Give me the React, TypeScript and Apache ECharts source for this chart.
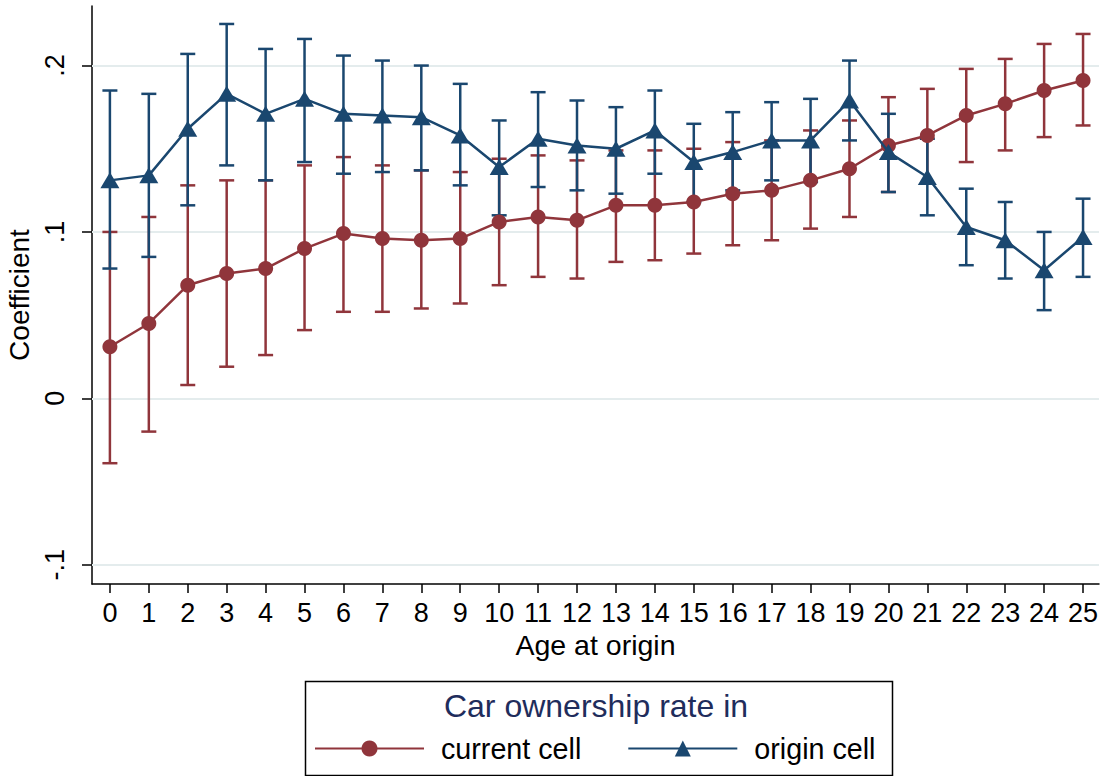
import React, { useEffect, useRef } from "react";
import * as echarts from "echarts";

// Age at origin (x) and the coefficient estimates with their 95% bounds
const ages = [0, 1, 2, 3, 4, 5, 6, 7, 8, 9, 10, 11, 12, 13, 14, 15, 16, 17, 18, 19, 20, 21, 22, 23, 24, 25];

const currentCoef = [0.031, 0.045, 0.068, 0.075, 0.078, 0.09, 0.099, 0.096, 0.095, 0.096, 0.106, 0.109, 0.107, 0.116, 0.116, 0.118, 0.123, 0.125, 0.131, 0.138, 0.152, 0.158, 0.17, 0.177, 0.185, 0.191];
const currentHi = [0.1, 0.109, 0.128, 0.131, 0.131, 0.14, 0.145, 0.14, 0.137, 0.136, 0.144, 0.146, 0.143, 0.149, 0.149, 0.15, 0.154, 0.155, 0.161, 0.167, 0.181, 0.186, 0.198, 0.204, 0.213, 0.219];
const currentLo = [-0.039, -0.02, 0.008, 0.019, 0.026, 0.041, 0.052, 0.052, 0.054, 0.057, 0.068, 0.073, 0.072, 0.082, 0.083, 0.087, 0.092, 0.095, 0.102, 0.109, 0.124, 0.129, 0.142, 0.149, 0.157, 0.164];

const originCoef = [0.131, 0.134, 0.162, 0.183, 0.171, 0.18, 0.171, 0.17, 0.169, 0.158, 0.139, 0.156, 0.152, 0.15, 0.161, 0.142, 0.148, 0.155, 0.155, 0.179, 0.148, 0.133, 0.103, 0.095, 0.077, 0.097];
const originHi = [0.185, 0.183, 0.207, 0.225, 0.21, 0.216, 0.206, 0.203, 0.2, 0.189, 0.167, 0.184, 0.179, 0.175, 0.185, 0.165, 0.172, 0.178, 0.18, 0.203, 0.171, 0.156, 0.126, 0.118, 0.1, 0.12];
const originLo = [0.078, 0.085, 0.116, 0.14, 0.131, 0.142, 0.135, 0.136, 0.137, 0.128, 0.11, 0.127, 0.125, 0.123, 0.135, 0.118, 0.125, 0.131, 0.13, 0.155, 0.124, 0.11, 0.08, 0.072, 0.053, 0.073];

const yTicks = [-0.1, 0, 0.1, 0.2];
const yTickLabels = ["-.1", "0", ".1", ".2"];

const seriesNames = ["current cell", "origin cell"];
const legendTitle = "Car ownership rate in";
const xTitle = "Age at origin";
const yTitle = "Coefficient";

const RED = "#90353b";
const NAVY = "#1a476f";
const FONT = "'Liberation Sans', Arial, Helvetica, sans-serif";

// Vertical range bar with horizontal caps at both ends
const renderCap = (_params: any, api: any) => {
  const x = api.value(0);
  const lo = api.coord([x, api.value(1)]);
  const hi = api.coord([x, api.value(2)]);
  const half = 7.5;
  const style = { stroke: api.visual("color"), lineWidth: 2.5, fill: "none" };
  return {
    type: "group",
    children: [
      { type: "line", shape: { x1: lo[0], y1: lo[1], x2: hi[0], y2: hi[1] }, style },
      { type: "line", shape: { x1: hi[0] - half, y1: hi[1], x2: hi[0] + half, y2: hi[1] }, style },
      { type: "line", shape: { x1: lo[0] - half, y1: lo[1], x2: lo[0] + half, y2: lo[1] }, style },
    ],
  };
};

export default function App() {
  const ref = useRef<HTMLDivElement>(null);

  useEffect(() => {
    if (!ref.current) return;
    const chart = echarts.init(ref.current, null, { renderer: "svg" });

    const currentBars = ages.map((a, i) => [a, currentLo[i], currentHi[i]]);
    const originBars = ages.map((a, i) => [a, originLo[i], originHi[i]]);

    chart.setOption({
      animation: false,
      backgroundColor: "#ffffff",
      textStyle: { fontFamily: FONT },
      grid: { left: 92, right: 6, top: 6, bottom: 192, containLabel: false, outerBoundsMode: "none" },
      xAxis: {
        type: "value",
        min: -0.46,
        max: 25.41,
        name: xTitle,
        nameLocation: "middle",
        nameGap: 46,
        nameTextStyle: { fontSize: 28.5, color: "#000", fontFamily: FONT },
        axisLine: { show: true, onZero: false, lineStyle: { color: "#000", width: 1.5 } },
        axisTick: { show: true, length: 9, customValues: ages, lineStyle: { color: "#000", width: 1.5 } },
        axisLabel: { customValues: ages, fontSize: 27, color: "#000", margin: 15, fontFamily: FONT },
        splitLine: { show: false },
      },
      yAxis: {
        type: "value",
        min: -0.1116,
        max: 0.2358,
        name: yTitle,
        nameLocation: "middle",
        nameRotate: 90,
        nameGap: 51,
        nameTextStyle: { fontSize: 28, color: "#000", fontFamily: FONT },
        axisLine: { show: true, onZero: false, lineStyle: { color: "#000", width: 1.5 } },
        axisTick: { show: true, length: 10, customValues: yTicks, lineStyle: { color: "#000", width: 1.5 } },
        axisLabel: {
          customValues: yTicks,
          rotate: 90,
          fontSize: 27,
          color: "#000",
          margin: 24,
          fontFamily: FONT,
          formatter: (v: number) => {
            const i = yTicks.findIndex((t) => Math.abs(t - v) < 1e-9);
            return i >= 0 ? yTickLabels[i] : "";
          },
        },
        splitLine: { show: false },
      },
      legend: {
        data: seriesNames,
        left: 314,
        top: 734,
        padding: 0,
        itemWidth: 109,
        itemHeight: 20,
        itemGap: 46,
        textStyle: { fontSize: 28.7, color: "#000", fontFamily: FONT, padding: [0, 0, 0, 12] },
      },
      graphic: [
        {
          type: "rect",
          left: 303,
          top: 679,
          shape: { width: 587, height: 94 },
          style: { fill: "none", stroke: "#000", lineWidth: 1.5 },
          z: 0,
        },
        {
          type: "text",
          x: 596,
          y: 706,
          style: {
            text: legendTitle,
            fontSize: 32,
            fill: "#1f2d5c",
            fontFamily: FONT,
            textAlign: "center",
            textVerticalAlign: "middle",
          },
        },
      ],
      series: [
        {
          name: "current cell CI",
          type: "custom",
          renderItem: renderCap,
          itemStyle: { color: RED },
          data: currentBars,
          encode: { x: 0, y: [1, 2] },
          z: 2,
          markLine: {
            silent: true,
            symbol: "none",
            z: 1,
            label: { show: false },
            lineStyle: { color: "#e4eced", width: 2, type: "solid" },
            data: yTicks.map((v) => ({ yAxis: v })),
          },
        },
        {
          name: "origin cell CI",
          type: "custom",
          renderItem: renderCap,
          itemStyle: { color: NAVY },
          data: originBars,
          encode: { x: 0, y: [1, 2] },
          z: 2,
        },
        {
          name: seriesNames[0],
          type: "line",
          data: ages.map((a, i) => [a, currentCoef[i]]),
          symbol: "circle",
          symbolSize: 15,
          itemStyle: { color: RED },
          lineStyle: { color: RED, width: 2.5 },
          z: 3,
        },
        {
          name: seriesNames[1],
          type: "line",
          data: ages.map((a, i) => [a, originCoef[i]]),
          symbol: "triangle",
          symbolSize: [19, 16],
          itemStyle: { color: NAVY },
          lineStyle: { color: NAVY, width: 2.5 },
          z: 4,
        },
      ],
    });

    return () => chart.dispose();
  }, []);

  return (
    <div
      ref={ref}
      style={{ position: "fixed", left: 0, top: 0, width: 1105, height: 776, background: "#fff" }}
    />
  );
}
